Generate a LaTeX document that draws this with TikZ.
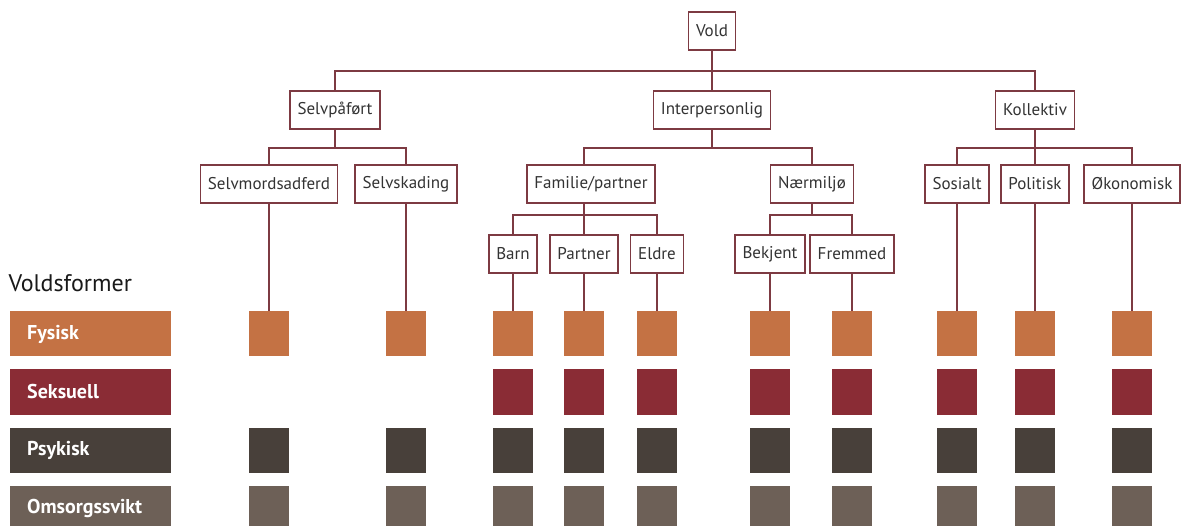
\documentclass[tikz,border=0pt]{standalone}
\usepackage{fontspec}
\setmainfont{PT Sans}
\definecolor{linje}{HTML}{7D3A42}
\definecolor{fysisk}{HTML}{C47244}
\definecolor{seksuell}{HTML}{8A2C35}
\definecolor{psykisk}{HTML}{48403A}
\definecolor{omsorg}{HTML}{6D6057}
\tikzset{
  boks/.style={draw=linje, line width=1.6pt, fill=white, text=black!80, minimum height=38pt, inner xsep=7.5pt, font=\fontsize{17}{17}\selectfont},
  kant/.style={draw=linje, line width=1.6pt},
  rute/.style={minimum width=40pt, minimum height=45pt, inner sep=0pt},
  legende/.style={anchor=west, minimum height=45pt, text width=127pt, inner xsep=17pt, align=left, text=white, font=\fontsize{20}{20}\selectfont\bfseries}
}
\begin{document}
\begin{tikzpicture}[x=1pt,y=-1pt]
  \useasboundingbox (0,0) rectangle (1183,526);
  \clip (0,0) rectangle (1183,526);
  % tre
  \node[boks] (vold) at (712,31) {Vold};
  \node[boks] (selv) at (335,110) {Selvpåført};
  \node[boks] (inter) at (712,110) {Interpersonlig};
  \node[boks] (koll) at (1035,110) {Kollektiv};
  \node[boks] (smd) at (269,184) {Selvmordsadferd};
  \node[boks] (ssk) at (406,184) {Selvskading};
  \node[boks] (fam) at (591,184) {Familie/partner};
  \node[boks] (naer) at (812,184) {Nærmiljø};
  \node[boks] (sos) at (957,184) {Sosialt};
  \node[boks] (pol) at (1035,184) {Politisk};
  \node[boks] (oko) at (1132,184) {Økonomisk};
  \node[boks] (barn) at (513,254) {Barn};
  \node[boks] (part) at (584,254) {Partner};
  \node[boks] (eld) at (657,254) {Eldre};
  \node[boks] (bek) at (770,254) {Bekjent};
  \node[boks] (frem) at (852,254) {Fremmed};
  \draw[kant] (vold.south) -- ++(0,20) -| (selv.north);
  \draw[kant] (vold.south) -- ++(0,20) -| (koll.north);
  \draw[kant] (vold.south) -- (inter.north);
  \draw[kant] (selv.south) -- ++(0,18) -| (smd.north);
  \draw[kant] (selv.south) -- ++(0,18) -| (ssk.north);
  \draw[kant] (inter.south) -- ++(0,18) -| (fam.north -| part.north);
  \draw[kant] (inter.south) -- ++(0,18) -| (naer.north);
  \draw[kant] (koll.south) -- ++(0,18) -| (sos.north);
  \draw[kant] (koll.south) -- ++(0,18) -| (oko.north);
  \draw[kant] (koll.south) -- (pol.north);
  \draw[kant] (fam.south -| part.north) -- ++(0,11) -| (barn.north);
  \draw[kant] (fam.south -| part.north) -- ++(0,11) -| (eld.north);
  \draw[kant] (fam.south -| part.north) -- (part.north);
  \draw[kant] (naer.south) -- ++(0,11) -| (bek.north);
  \draw[kant] (naer.south) -- ++(0,11) -| (frem.north);
  % voldsformer
  \node[anchor=west, font=\fontsize{24}{24}\selectfont, text=black!90] (tittel) at (5,283) {Voldsformer};
  \node[legende, fill=fysisk] (l-fys) at (10,334) {Fysisk};
  \node[legende, fill=seksuell] (l-seks) at (10,392) {Seksuell};
  \node[legende, fill=psykisk] (l-psyk) at (10,450) {Psykisk};
  \node[legende, fill=omsorg] (l-oms) at (10,508) {Omsorgssvikt};
  \foreach \n/\x [count=\i] in {smd/269, ssk/406, barn/513, part/584, eld/657, bek/770, frem/852, sos/957, pol/1035, oko/1132} {
    \node[rute, fill=fysisk] (fys-\n) at (\x,334) {};
    \ifnum\i>2
      \node[rute, fill=seksuell] (seks-\n) at (\x,392) {};
    \fi
    \node[rute, fill=psykisk] (psyk-\n) at (\x,450) {};
    \node[rute, fill=omsorg] (oms-\n) at (\x,508) {};
    \draw[kant] (\n.south) -- (fys-\n.north);
  }
\end{tikzpicture}
\end{document}
